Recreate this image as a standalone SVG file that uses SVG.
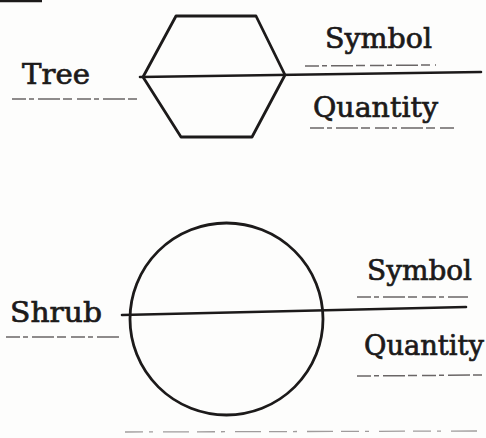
<svg xmlns="http://www.w3.org/2000/svg" width="486" height="438" viewBox="0 0 486 438">
  <style>
    .shape { fill: none; stroke: #1c1a1a; stroke-width: 2.8; stroke-linejoin: round; }
    .axis { stroke: #1c1a1a; stroke-width: 2.6; stroke-linecap: round; }
    .ul { stroke: #6a6666; stroke-width: 1.5; stroke-dasharray: 14 3 5 4 22 3 9 5; }
    .faint { stroke: #a09c9c; stroke-width: 1.3; stroke-dasharray: 18 6 4 10 26 8; }
    .lbl { font-family: "DejaVu Serif", "Liberation Serif", serif; font-size: 28px; fill: #1c1a1a; stroke: #1c1a1a; stroke-width: 0.7; }
  </style>
  <rect width="486" height="438" fill="#fdfdfc"/>
  <line x1="0" y1="1" x2="42" y2="1" stroke="#1c1a1a" stroke-width="2.5"/>

  <g id="tree">
    <polygon class="shape" points="176,16 256,16 285,75 252,137 181,137 143,77"/>
    <text class="lbl" x="22" y="84" textLength="68" lengthAdjust="spacingAndGlyphs">Tree</text>
  </g>
  <g id="tree-symbol">
    <text class="lbl" x="325" y="48" textLength="107" lengthAdjust="spacingAndGlyphs">Symbol</text>
  </g>
  <g id="tree-quantity">
    <text class="lbl" x="313" y="117" textLength="125" lengthAdjust="spacingAndGlyphs">Quantity</text>
  </g>

  <g id="shrub">
    <ellipse class="shape" cx="226.5" cy="319" rx="96.5" ry="96"/>
    <text class="lbl" x="10" y="322" font-size="30" textLength="92" lengthAdjust="spacingAndGlyphs">Shrub</text>
  </g>
  <g id="shrub-symbol">
    <text class="lbl" x="367" y="280" textLength="105" lengthAdjust="spacingAndGlyphs">Symbol</text>
  </g>
  <g id="shrub-quantity">
    <text class="lbl" x="364" y="355" textLength="120" lengthAdjust="spacingAndGlyphs">Quantity</text>
  </g>

  <g id="connectors">
    <line class="axis" x1="140" y1="77" x2="481" y2="72"/>
    <line class="axis" x1="122" y1="315" x2="466" y2="307"/>
    <line class="ul" x1="12" y1="99" x2="138" y2="99"/>
    <line class="ul" x1="305" y1="66" x2="436" y2="65"/>
    <line class="ul" x1="310" y1="128" x2="457" y2="128"/>
    <line class="ul" x1="6" y1="337" x2="121" y2="337"/>
    <line class="ul" x1="357" y1="297" x2="468" y2="297"/>
    <line class="ul" x1="357" y1="376" x2="486" y2="375"/>
    <line class="faint" x1="125" y1="432" x2="480" y2="431"/>
  </g>
</svg>
